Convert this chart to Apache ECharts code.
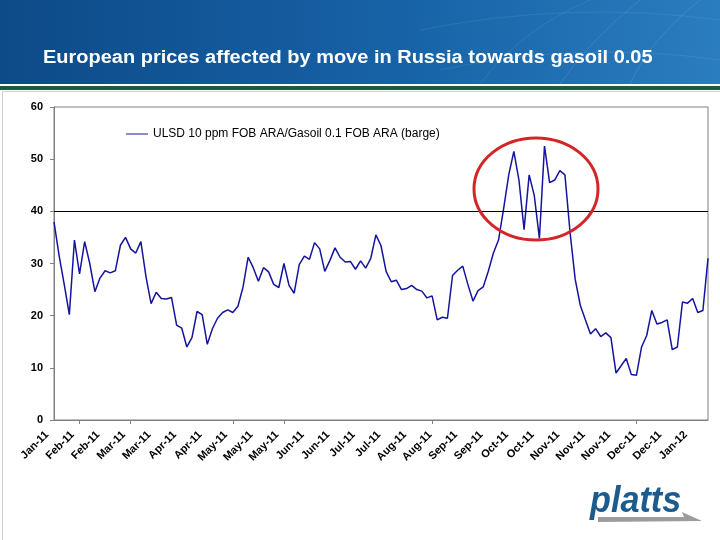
<!DOCTYPE html>
<html><head><meta charset="utf-8">
<script src="https://cdn.jsdelivr.net/npm/echarts@6/dist/echarts.min.js"></script>
<style>html,body{margin:0;padding:0;background:#fff}#c{width:720px;height:540px}</style>
</head><body><div id="c"></div>
<script>
const titleText = 'European prices affected by move in Russia towards gasoil 0.05';
const seriesName = 'ULSD 10 ppm FOB ARA/Gasoil 0.1 FOB ARA (barge)';
const tickLabels = ['Jan-11','Feb-11','Feb-11','Mar-11','Mar-11','Apr-11','Apr-11','May-11','May-11','May-11','Jun-11','Jun-11','Jul-11','Jul-11','Aug-11','Aug-11','Sep-11','Sep-11','Oct-11','Oct-11','Nov-11','Nov-11','Nov-11','Dec-11','Dec-11','Jan-12'];
const values = [
  38, 31.5, 26, 20.2, 34.5, 28, 34.2, 30, 24.6, 27.2,
  28.6, 28.2, 28.6, 33.5, 35, 32.8, 32, 34.2, 27.5, 22.3,
  24.5, 23.3, 23.2, 23.5, 18.2, 17.6, 14, 15.8, 20.8, 20.2,
  14.5, 17.5, 19.5, 20.6, 21.1, 20.6, 21.8, 25.5, 31.2, 29.2,
  26.6, 29.2, 28.4, 26, 25.4, 30, 25.8, 24.3, 29.8, 31.4,
  30.8, 34, 32.8, 28.5, 30.6, 33, 31.2, 30.3, 30.4, 28.9,
  30.5, 29.1, 31, 35.5, 33.4, 28.5, 26.5, 26.8, 25, 25.2,
  25.8, 25, 24.7, 23.4, 23.8, 19.2, 19.7, 19.5, 27.7, 28.7,
  29.5, 26, 22.8, 24.8, 25.5, 28.5, 32, 34.5, 40.5, 47,
  51.5, 46, 36.5, 47, 43, 34.8, 52.5, 45.5, 46, 47.8,
  47, 36, 27, 22, 19.2, 16.5, 17.5, 16, 16.7, 15.8,
  9, 10.4, 11.8, 8.7, 8.6, 14, 16.2, 21, 18.4, 18.7,
  19.2, 13.5, 14, 22.6, 22.4, 23.3, 20.6, 21, 31
];
const thresholdValue = 40;
const yMin = 0, yMax = 60, yStep = 10;
const labelStep = 5;
const categories = values.map((v, i) => tickLabels[Math.floor(i / labelStep)]);
const tickIdx = [5, 15, 35, 45, 74, 114];

const chart = echarts.init(document.getElementById('c'), null, {renderer: 'canvas'});
const FONT = '"Liberation Sans", Arial, sans-serif';
chart.setOption({
  animation: false,
  backgroundColor: '#ffffff',
  grid: {left: 54, right: 12, top: 107, bottom: 120, show: true, borderColor: '#808080', borderWidth: 1, backgroundColor: 'transparent'},
  legend: {
    show: true, left: 121, top: 123, itemWidth: 22, itemHeight: 10, itemGap: 4,
    textStyle: {fontFamily: FONT, fontSize: 12, color: '#000'},
    data: [{name: seriesName, icon: 'path://M0,5L22,5L22,6L0,6Z'}]
  },
  xAxis: {
    type: 'category', data: categories, boundaryGap: false,
    axisLine: {lineStyle: {color: '#808080', width: 1}},
    axisTick: {show: true, length: 4, lineStyle: {color: '#808080'}, interval: (idx) => tickIdx.includes(idx)},
    axisLabel: {interval: labelStep - 1, rotate: 45, margin: 6, padding: [0, 10, 0, 0], fontFamily: FONT, fontSize: 11, fontWeight: 'bold', color: '#000'},
    splitLine: {show: false}
  },
  yAxis: {
    type: 'value', min: yMin, max: yMax, interval: yStep,
    axisLine: {show: true, lineStyle: {color: '#808080'}},
    axisTick: {show: true, length: 4, lineStyle: {color: '#808080'}},
    axisLabel: {margin: 11, fontFamily: FONT, fontSize: 11, fontWeight: 'bold', color: '#000'},
    splitLine: {show: false}
  },
  series: [{
    name: seriesName, type: 'line', data: values, symbol: 'none', smooth: false,
    lineStyle: {color: '#14149e', width: 1.5}, itemStyle: {color: '#14149e'},
    markLine: {
      silent: true, symbol: ['none', 'none'], label: {show: false},
      lineStyle: {color: '#000', type: 'solid', width: 1},
      data: [{yAxis: thresholdValue}]
    }
  }],
  graphic: [
    {type: 'rect', shape: {x: 0, y: 0, width: 720, height: 84}, z: 0,
     style: {fill: new echarts.graphic.LinearGradient(0, 0, 1, 0, [
       {offset: 0, color: '#0d4a88'}, {offset: 0.55, color: '#1762a6'}, {offset: 1, color: '#2a7dbf'}])}},
    {type: 'bezierCurve', shape: {x1: 560, y1: 84, x2: 640, y2: 0, cpx1: 590, cpy1: 40}, style: {stroke: 'rgba(255,255,255,0.1)', lineWidth: 1, fill: 'none'}},
    {type: 'bezierCurve', shape: {x1: 630, y1: 84, x2: 700, y2: 0, cpx1: 650, cpy1: 40}, style: {stroke: 'rgba(255,255,255,0.1)', lineWidth: 1, fill: 'none'}},
    {type: 'bezierCurve', shape: {x1: 480, y1: 84, x2: 590, y2: 0, cpx1: 520, cpy1: 30}, style: {stroke: 'rgba(255,255,255,0.08)', lineWidth: 1, fill: 'none'}},
    {type: 'bezierCurve', shape: {x1: 420, y1: 30, x2: 720, y2: 20, cpx1: 570, cpy1: 0}, style: {stroke: 'rgba(255,255,255,0.08)', lineWidth: 1, fill: 'none'}},
    {type: 'bezierCurve', shape: {x1: 440, y1: 70, x2: 720, y2: 60, cpx1: 580, cpy1: 40}, style: {stroke: 'rgba(255,255,255,0.08)', lineWidth: 1, fill: 'none'}},
    {type: 'text', z: 10, x: 43, y: 58.5, scaleX: 1.11, style: {x: 0, y: 0, text: titleText, verticalAlign: 'middle', font: 'bold 18px ' + FONT, fill: '#ffffff'}},
    {type: 'rect', shape: {x: 0, y: 86, width: 720, height: 4}, style: {fill: '#1e5a3e'}},
    {type: 'line', shape: {x1: 2, y1: 91.5, x2: 720, y2: 91.5}, style: {stroke: '#d0d0d0', lineWidth: 1}},
    {type: 'line', shape: {x1: 2.5, y1: 91, x2: 2.5, y2: 540}, style: {stroke: '#d0d0d0', lineWidth: 1}},
    {type: 'ellipse', z: 100, shape: {cx: 536, cy: 189, rx: 62, ry: 51}, style: {fill: 'none', stroke: '#d42626', lineWidth: 3}},
    {type: 'text', z: 10, x: 590, y: 484, scaleX: 0.95, style: {x: 0, y: 0, text: 'platts', font: 'italic bold 36px ' + FONT, fill: '#1d5a8e', verticalAlign: 'top'}},
    {type: 'polygon', z: 10, shape: {points: [[598, 517], [684, 517], [682, 512], [702, 521], [598, 522]]}, style: {fill: '#9c9c9c'}}
  ]
});
</script></body></html>
